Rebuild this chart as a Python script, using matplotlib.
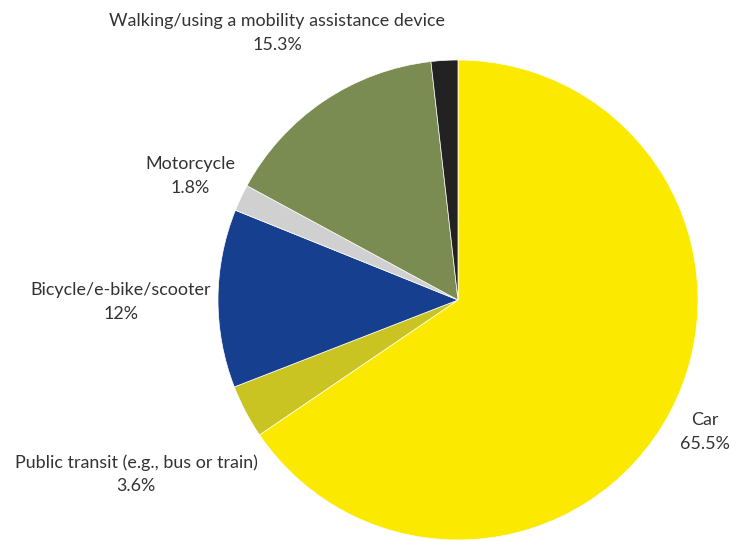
import matplotlib.pyplot as plt

labels = ['Car', 'Public transit (e.g., bus or train)', 'Bicycle/e-bike/scooter',
          'Motorcycle', 'Walking/using a mobility assistance device', '']
values = [65.5, 3.6, 12, 1.8, 15.3, 1.8]
pct_text = ['65.5%', '3.6%', '12%', '1.8%', '15.3%', '']
colors = ['#FBEA00', '#C9C422', '#173F8F', '#D0D0D0', '#7A8C52', '#222222']

# label positions in pixel coords (x, y from top)
label_pos = [(705, 432), (136, 474), (121, 302), (190, 176), (277, 33), None]

fig = plt.figure(figsize=(7.39, 5.41), dpi=100)
ax = fig.add_axes([0, 0, 1, 1])
ax.axis('off')

ax.pie(values, colors=colors, startangle=90, counterclock=False,
       center=(458, 541 - 300), radius=240,
       wedgeprops={'linewidth': 0.5, 'edgecolor': 'white'})
ax.set_xlim(0, 739)
ax.set_ylim(0, 541)
ax.set_aspect('equal')

for lab, pct, pos in zip(labels, pct_text, label_pos):
    if pos is None:
        continue
    ax.text(pos[0], 541 - pos[1], lab + '\n' + pct, ha='center', va='center',
            fontsize=12.9, family='Lato', color='#333333', linespacing=1.55)

fig.savefig('out.png', dpi=100)
